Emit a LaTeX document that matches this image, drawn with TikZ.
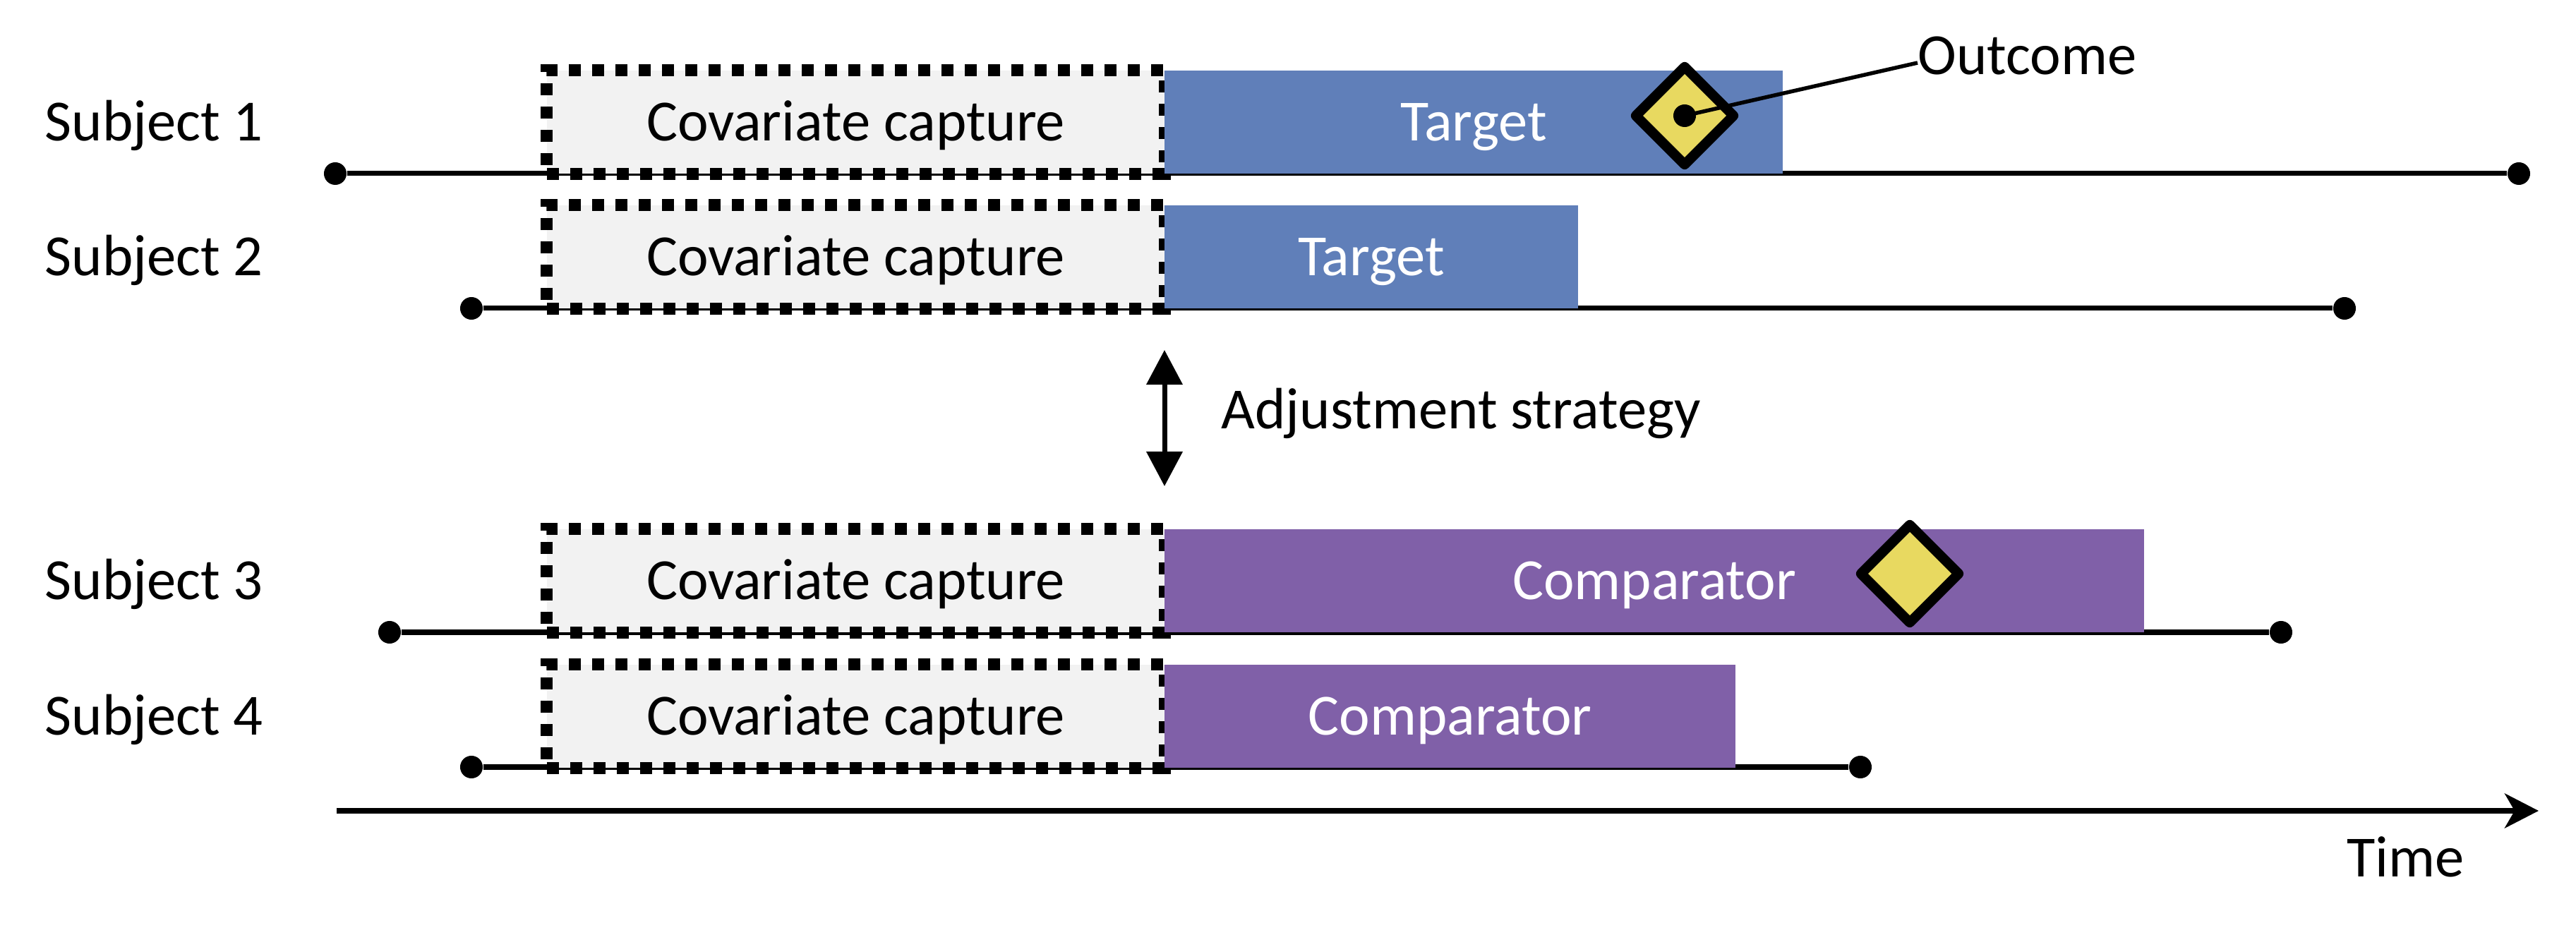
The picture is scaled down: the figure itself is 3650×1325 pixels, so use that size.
\documentclass[tikz,border=0pt]{standalone}
\usepackage{fontspec}
\setmainfont{Carlito}
\usetikzlibrary{shapes.geometric,positioning,calc,arrows.meta}
\definecolor{covgray}{HTML}{F2F2F2}
\definecolor{targetblue}{RGB}{96,127,185}
\definecolor{comppurple}{RGB}{128,96,168}
\definecolor{markyellow}{RGB}{232,217,96}
\tikzset{LABEL/.style={font=\fontsize{23.5}{28}\selectfont, text height=0.53cm, text depth=0cm, inner sep=0}}
\tikzset{ARROW/.style={line width=0.07cm, -{Stealth[length=0.48cm, width=0.49cm, inset=0.14cm]}}}
\tikzset{DARROW/.style={line width=0.07cm, {Triangle[length=0.49cm, width=0.5cm]}-{Triangle[length=0.49cm, width=0.5cm]}}}
\tikzset{TIMELINE/.style={line width=0.07cm}}
\tikzset{DOT/.style={circle, fill=black, minimum size=0.32cm, inner sep=0}}
\tikzset{COVBOX/.style={LABEL, rectangle, draw, fill=covgray, line width=0.17cm, dash pattern=on 0.17cm off 0.16cm, minimum width=8.75cm, minimum height=1.46cm, outer sep=0}}
\tikzset{BAR/.style={LABEL, rectangle, text=white, minimum height=1.46cm, anchor=west, outer sep=0}}
\tikzset{MARK/.style={diamond, aspect=1, minimum width=1.44cm, minimum height=1.44cm, inner sep=0, fill=markyellow, draw, line width=0.14cm, line join=round}}

\begin{document}
\begin{tikzpicture}[x=0.01cm, y=-0.01cm]
    \useasboundingbox (0,0) rectangle (3650,1325);

    % follow-up lines of the four subjects
    \node[DOT] (s1a) at (475,246) {};
    \node[DOT] (s1b) at (3569,246) {};
    \node[DOT] (s2a) at (668,437) {};
    \node[DOT] (s2b) at (3322,437) {};
    \node[DOT] (s3a) at (552,896) {};
    \node[DOT] (s3b) at (3232,896) {};
    \node[DOT] (s4a) at (668,1087) {};
    \node[DOT] (s4b) at (2636,1087) {};
    \foreach \s in {1,2,3,4}
        \draw[TIMELINE] (s\s a) -- (s\s b);

    % subject labels
    \node[LABEL, anchor=west] (lab1) at (63,173) {Subject 1};
    \node[LABEL, anchor=west] (lab2) at (63,364) {Subject 2};
    \node[LABEL, anchor=west] (lab3) at (63,823) {Subject 3};
    \node[LABEL, anchor=west] (lab4) at (63,1015) {Subject 4};

    % covariate windows
    \node[COVBOX] (cov1) at (1212.5,173) {Covariate capture};
    \node[COVBOX] (cov2) at (1212.5,364) {Covariate capture};
    \node[COVBOX] (cov3) at (1212.5,823) {Covariate capture};
    \node[COVBOX] (cov4) at (1212.5,1015) {Covariate capture};

    % exposure bars
    \node[BAR, fill=targetblue, minimum width=8.75cm] (tar1) at (cov1.east) {Target};
    \node[BAR, fill=targetblue, minimum width=5.85cm] (tar2) at (cov2.east) {Target};
    \node[BAR, fill=comppurple, minimum width=13.87cm] (comp3) at (cov3.east) {Comparator};
    \node[BAR, fill=comppurple, minimum width=8.08cm] (comp4) at (cov4.east) {Comparator};

    % outcomes
    \node[MARK] (mark1) at (2387,164) {};
    \node[MARK] (mark3) at (2706,813) {};
    \node[DOT] (mark1dot) at (mark1.center) {};
    \node[LABEL, anchor=west] (outcome) at (2717,79) {Outcome};
    \draw[line width=0.055cm] (mark1dot.center) -- ([yshift=-0.1cm]outcome.west);

    % adjustment between the two arms
    \coordinate (adjtop) at (1650,496);
    \coordinate (adjbot) at (1650,689);
    \draw[DARROW] (adjtop) -- (adjbot);
    \node[LABEL, anchor=west] (adjust) at (1730,581) {Adjustment strategy};

    % time axis
    \coordinate (tstart) at (477,1149);
    \coordinate (tend) at (3597,1149);
    \draw[ARROW] (tstart) -- (tend);
    \node[LABEL, anchor=west] (time) at (3325,1216) {Time};
\end{tikzpicture}
\end{document}
